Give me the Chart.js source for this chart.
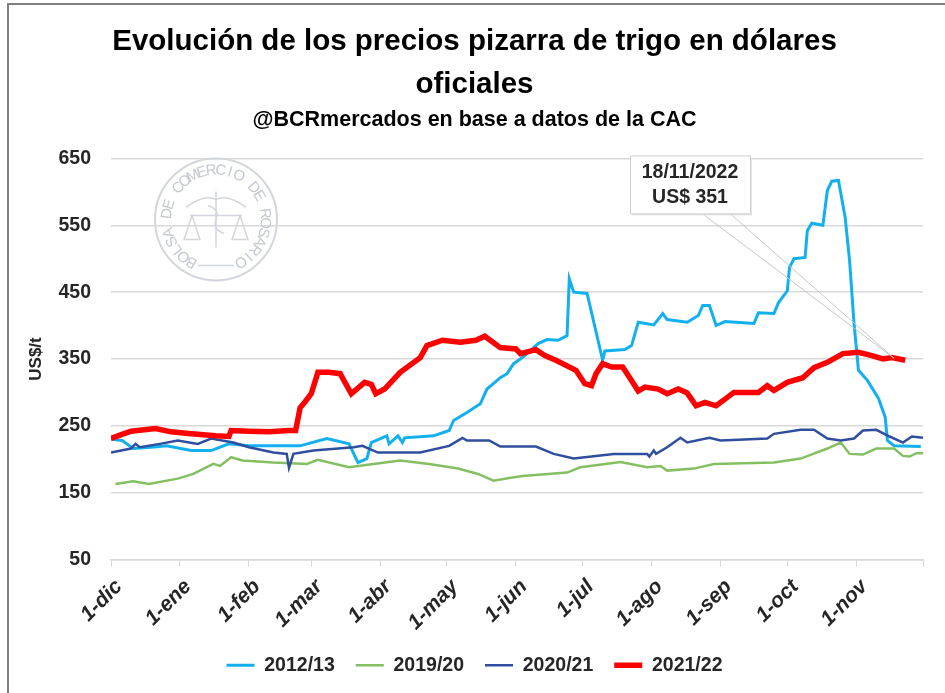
<!DOCTYPE html>
<html><head><meta charset="utf-8">
<script src="https://cdn.jsdelivr.net/npm/chart.js@4/dist/chart.umd.min.js"></script>
<style>html,body{margin:0;padding:0;background:#fff;overflow:hidden}</style>
</head><body>
<canvas id="c" width="945" height="693" style="width:945px;height:693px;display:block"></canvas>
<script>
// ---- data (x = days since 1-dic, y = US$/t) ----
const monthTicks = [0,31,62,90,121,151,182,212,243,274,304,335,365];
const monthLabels = ['1-dic','1-ene','1-feb','1-mar','1-abr','1-may','1-jun','1-jul','1-ago','1-sep','1-oct','1-nov',''];
const seriesNames = ['2012/13','2019/20','2020/21','2021/22'];

const days1213 = [0,5,10,18,25,36,45,53,62,85,97,107,111,115,117,124,125,129,131,132,145,152,154,160,166,169,175,178,181,184,186,192,196,201,205,206,208,214,221,222,231,234,237,244,248,250,259,264,266,269,272,276,289,291,298,300,304,305,307,312,313,315,320,322,324,327,330,332,334,336,340,345,348,349,352,364];
const vals1213 = [230,228,216,218,220,213,213,223,220,220,231,223,195,201,225,235,223,235,225,232,235,243,258,270,283,305,322,328,343,350,355,373,379,378,385,470,450,448,348,362,364,370,405,401,418,409,405,415,430,430,400,406,403,419,418,434,452,487,500,502,542,553,550,602,616,617,562,497,403,333,318,291,263,228,220,219];

const days1920 = [2,10,17,30,37,46,49,54,59,73,88,93,107,118,130,143,156,165,172,179,185,205,211,229,241,247,250,262,271,298,310,322,328,332,338,344,352,356,359,362,365];
const vals1920 = [163,167,163,171,178,193,190,203,198,195,193,199,188,193,198,193,186,178,168,172,175,180,188,196,188,190,183,186,193,195,201,216,225,208,207,216,216,205,204,209,209];

const days2021 = [0,9,11,13,22,30,39,45,55,62,73,79,80,82,91,109,113,120,139,152,158,160,170,175,191,199,208,226,241,242,244,245,250,256,259,269,274,295,298,310,316,322,328,334,338,344,350,356,360,365];
const vals2021 = [210,216,223,218,223,228,223,231,225,218,210,208,187,208,213,218,220,210,210,220,232,228,228,219,219,208,201,208,208,204,213,208,218,232,225,232,228,231,238,244,244,231,228,231,243,244,234,225,234,232];

const days2122 = [0,4,9,15,20,27,36,47,53,54,62,71,80,83,85,87,90,93,98,103,108,114,117,119,123,130,139,142,149,157,164,168,175,182,184,191,195,200,209,213,216,218,221,225,230,232,237,240,246,250,255,259,263,267,272,276,280,291,295,298,304,311,316,322,329,336,342,347,351,357];
const vals2122 = [231,236,242,244,246,241,238,235,234,243,242,241,243,243,277,285,298,330,330,328,298,315,312,298,305,330,352,370,378,375,378,384,367,365,358,364,355,348,333,313,310,328,343,338,338,328,302,308,305,298,305,299,280,285,280,290,300,300,310,303,315,322,337,345,358,360,355,350,352,348];

const calloutDay = 352;
const calloutValue = 351;
const calloutText = ['18/11/2022', 'US$ 351'];

const titleLines = ['Evolución de los precios pizarra de trigo en dólares', 'oficiales'];
const subtitleText = '@BCRmercados en base a datos de la CAC';
const yAxisTitle = 'US$/t';
const watermarkText = 'BOLSA DE COMERCIO DE ROSARIO';

// ---- build ----
const zip = (xs, ys) => xs.map((x, i) => ({x, y: ys[i]}));
const SANS = '"Liberation Sans",Arial,sans-serif';

const frame = {
  id: 'frame',
  beforeDraw(chart) {
    const c = chart.ctx;
    c.save();
    c.fillStyle = '#fff';
    c.fillRect(0, 0, chart.width, chart.height);
    c.strokeStyle = '#808080';
    c.lineWidth = 2;
    c.beginPath();
    c.moveTo(8, chart.height); c.lineTo(8, 4); c.lineTo(chart.width, 4);
    c.stroke();
    c.restore();
  }
};

const watermark = {
  id: 'watermark',
  beforeDatasetsDraw(chart) {
    const c = chart.ctx, a = chart.chartArea;
    const cx = a.left + 105, cy = a.top + 61, r = 61;
    c.save();
    c.strokeStyle = '#d3d6dc'; c.fillStyle = '#c4c8d0';
    c.lineWidth = 2;
    c.beginPath(); c.arc(cx, cy, r, 0, Math.PI * 2); c.stroke();
    c.font = '15px ' + SANS;
    c.textAlign = 'center'; c.textBaseline = 'middle';
    const start = -150 * Math.PI / 180, end = 150 * Math.PI / 180;
    for (let i = 0; i < watermarkText.length; i++) {
      const ang = start + (end - start) * i / (watermarkText.length - 1);
      c.save();
      c.translate(cx + Math.sin(ang) * (r - 12), cy - Math.cos(ang) * (r - 12));
      c.rotate(ang);
      c.fillText(watermarkText[i], 0, 0);
      c.restore();
    }
    c.lineWidth = 1.5;
    c.beginPath();
    c.moveTo(cx, cy - 28); c.lineTo(cx, cy + 28);
    c.moveTo(cx - 30, cy - 12); c.quadraticCurveTo(cx - 12, cy - 26, cx, cy - 20);
    c.quadraticCurveTo(cx + 12, cy - 26, cx + 30, cy - 12);
    c.moveTo(cx - 26, cy - 4); c.lineTo(cx + 26, cy - 4);
    c.moveTo(cx - 24, cy - 4); c.lineTo(cx - 32, cy + 20); c.lineTo(cx - 16, cy + 20); c.closePath();
    c.moveTo(cx + 24, cy - 4); c.lineTo(cx + 16, cy + 20); c.lineTo(cx + 32, cy + 20); c.closePath();
    c.moveTo(cx - 18, cy + 46); c.lineTo(cx + 18, cy + 46);
    c.stroke();
    c.beginPath();
    c.moveTo(cx - 8, cy - 14); c.bezierCurveTo(cx + 14, cy - 6, cx - 14, cy + 6, cx + 8, cy + 14);
    c.stroke();
    c.restore();
  }
};

const callout = {
  id: 'callout',
  afterDatasetsDraw(chart) {
    const c = chart.ctx, a = chart.chartArea;
    const xs = chart.scales.x, ys = chart.scales.y;
    const tx = xs.getPixelForValue(calloutDay), ty = ys.getPixelForValue(calloutValue);
    const bx = a.left + 519, by = a.top - 3, bw = 120, bh = 58;
    c.save();
    c.strokeStyle = '#c8c8c8'; c.lineWidth = 1;
    c.beginPath();
    c.moveTo(bx + 72, by + bh); c.lineTo(tx, ty);
    c.moveTo(bx + 100, by + bh); c.lineTo(tx, ty);
    c.stroke();
    c.fillStyle = '#e6e6e6';
    c.fillRect(bx + 2, by + 2, bw, bh);
    c.fillStyle = '#fff';
    c.fillRect(bx, by, bw, bh);
    c.strokeStyle = '#cfcfcf';
    c.strokeRect(bx + 0.5, by + 0.5, bw, bh);
    c.fillStyle = '#262626';
    c.font = 'bold 19.5px ' + SANS;
    c.textAlign = 'center'; c.textBaseline = 'middle';
    c.fillText(calloutText[0], bx + bw / 2, by + 17);
    c.fillText(calloutText[1], bx + bw / 2, by + 42);
    c.restore();
  }
};

const colors = ['#12B0EE', '#84C061', '#2F4E9E', '#FF0000'];
const widths = [3, 2.5, 2.5, 5.5];
const dataSets = [zip(days1213, vals1213), zip(days1920, vals1920), zip(days2021, vals2021), zip(days2122, vals2122)];

new Chart(document.getElementById('c'), {
  type: 'line',
  data: {
    datasets: seriesNames.map((name, i) => ({
      label: name,
      data: dataSets[i],
      borderColor: colors[i],
      backgroundColor: colors[i],
      borderWidth: widths[i],
      pointRadius: 0,
      tension: 0,
      fill: false,
      order: 3 - i
    }))
  },
  options: {
    responsive: false,
    animation: false,
    events: [],
    layout: { padding: { left: 26, right: 22, top: 0, bottom: 8 } },
    plugins: {
      title: {
        display: true, text: titleLines, color: '#000',
        font: { family: SANS, size: 29.5, weight: 'bold', lineHeight: 1.46 },
        padding: { top: 20.5, bottom: 0 }
      },
      subtitle: {
        display: true, text: subtitleText, color: '#000',
        font: { family: SANS, size: 21.5, weight: 'bold', lineHeight: 1.2 },
        padding: { top: 1, bottom: 25 }
      },
      legend: {
        position: 'bottom',
        labels: {
          usePointStyle: true, pointStyle: 'line', pointStyleWidth: 28,
          color: '#262626', padding: 21,
          font: { family: SANS, size: 19.5, weight: 'bold' },
          sort: (a, b) => a.datasetIndex - b.datasetIndex
        }
      },
      tooltip: { enabled: false }
    },
    scales: {
      x: {
        type: 'linear', min: 0, max: 365,
        afterBuildTicks: (s) => { s.ticks = monthTicks.map(v => ({ value: v })); },
        afterFit: (s) => { s.height = 75; s.paddingRight = 0; s.paddingLeft = 0; },
        grid: { drawOnChartArea: false, drawTicks: true, tickLength: 7, color: '#d9d9d9' },
        border: { color: '#d9d9d9', width: 1.5 },
        ticks: {
          autoSkip: false, maxRotation: 45, minRotation: 45, padding: 8, labelOffset: 8,
          color: '#262626',
          font: { family: SANS, size: 21, weight: 'bold', style: 'italic' },
          callback: (v, i) => monthLabels[i]
        }
      },
      y: {
        min: 50, max: 650,
        afterFit: (s) => { s.width = 85; },
        grid: { color: '#d9d9d9', lineWidth: 1.5, drawTicks: false },
        border: { display: false },
        ticks: {
          stepSize: 100, padding: 20, color: '#262626',
          font: { family: SANS, size: 19.5, weight: 'bold' }
        },
        title: {
          display: true, text: yAxisTitle, color: '#262626',
          font: { family: SANS, size: 17, weight: 'bold' }, padding: 0
        }
      }
    }
  },
  plugins: [frame, watermark, callout]
});
</script>
</body></html>
